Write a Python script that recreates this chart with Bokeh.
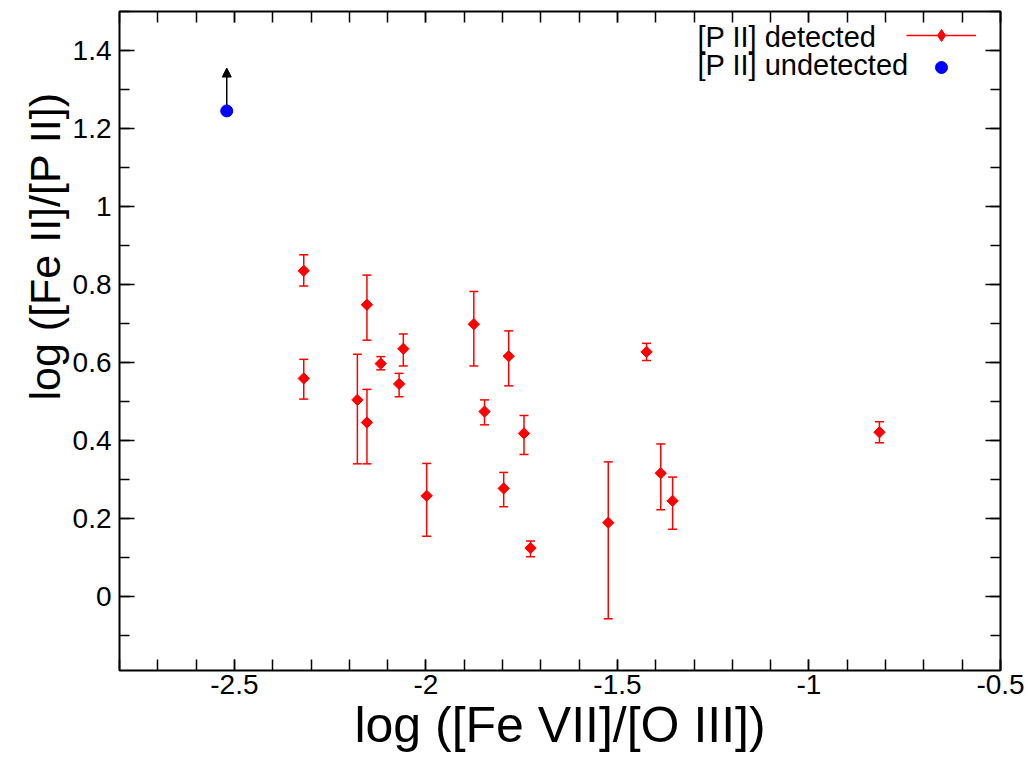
import numpy as np
from bokeh.plotting import figure
from bokeh.models import (Range1d, FixedTicker, LinearAxis, Arrow, NormalHead, Legend,
                          LegendItem, Title, Label, ColumnDataSource, CustomJSTickFormatter)
from bokeh.embed import file_html
from bokeh.resources import INLINE

# ---- data: [P II] detected ----
fe7_o3 = [-2.319, -2.319, -2.179, -2.154, -2.154, -2.118, -2.070, -2.059, -1.998, -1.875,
          -1.847, -1.797, -1.784, -1.744, -1.727, -1.524, -1.424, -1.387, -1.356, -0.816]
fe2_p2 = [0.835, 0.559, 0.504, 0.748, 0.446, 0.597, 0.545, 0.635, 0.258, 0.698,
          0.474, 0.277, 0.616, 0.418, 0.124, 0.189, 0.627, 0.316, 0.245, 0.421]
err_lo = [0.796, 0.506, 0.340, 0.657, 0.340, 0.581, 0.512, 0.591, 0.154, 0.591,
          0.440, 0.230, 0.540, 0.364, 0.102, -0.057, 0.605, 0.222, 0.172, 0.394]
err_hi = [0.876, 0.608, 0.621, 0.824, 0.531, 0.615, 0.572, 0.673, 0.341, 0.782,
          0.504, 0.318, 0.681, 0.464, 0.142, 0.345, 0.649, 0.391, 0.306, 0.448]

# ---- data: [P II] undetected (lower limit) ----
undet_x = [-2.52]
undet_y = [1.245]

series_labels = ["[P II] detected", "[P II] undetected"]

x_ticks = [-2.5, -2.0, -1.5, -1.0, -0.5]
x_tick_labels = ["-2.5", "-2", "-1.5", "-1", "-0.5"]
y_ticks = [0.0, 0.2, 0.4, 0.6, 0.8, 1.0, 1.2, 1.4]
y_tick_labels = ["0", "0.2", "0.4", "0.6", "0.8", "1", "1.2", "1.4"]

x_label = "log ([Fe VII]/[O III])"
y_label = "log ([Fe II]/[P II])"

FONT = "Liberation Sans"
arrow_len = 0.11

x_minor = [round(v, 2) for v in np.arange(-2.8, -0.49, 0.1)]
y_minor = [round(v, 2) for v in np.arange(-0.1, 1.51, 0.1)]

p = figure(width=1030, height=760,
           x_range=Range1d(-2.8, -0.5), y_range=Range1d(-0.19, 1.5),
           output_backend="svg", toolbar_location=None,
           min_border_left=119, min_border_right=30, min_border_top=11, min_border_bottom=90,
           background_fill_color="white", border_fill_color="white",
           outline_line_color="black", outline_line_width=2)
p.grid.visible = False

xt = FixedTicker(ticks=x_ticks, minor_ticks=x_minor)
yt = FixedTicker(ticks=y_ticks, minor_ticks=y_minor)


def style_axis(ax, tin, min_in):
    ax.axis_line_color = None
    ax.major_tick_in = tin
    ax.major_tick_out = 0
    ax.minor_tick_in = min_in
    ax.minor_tick_out = 0
    ax.major_tick_line_width = 1.5
    ax.minor_tick_line_width = 1.5
    ax.major_tick_line_color = "black"
    ax.minor_tick_line_color = "black"


xa = p.xaxis[0]
xa.ticker = xt
xa.major_label_overrides = {t: l for t, l in zip(x_ticks, x_tick_labels)}
style_axis(xa, 11, 11)
xa.major_label_text_font = FONT
xa.major_label_text_font_size = "28px"
xa.major_label_text_color = "black"
xa.major_label_standoff = 4
xa.axis_label = x_label
xa.axis_label_text_font = FONT
xa.axis_label_text_font_size = "50px"
xa.axis_label_text_font_style = "normal"
xa.axis_label_text_color = "black"
xa.axis_label_standoff = 0

ya = p.yaxis[0]
ya.ticker = yt
ya.major_label_overrides = {t: l for t, l in zip(y_ticks, y_tick_labels)}
style_axis(ya, 15, 10)
ya.major_label_text_font = FONT
ya.major_label_text_font_size = "28px"
ya.major_label_text_color = "black"
ya.major_label_standoff = 8

top = LinearAxis(ticker=xt, formatter=CustomJSTickFormatter(code="return ''"),
                 major_label_text_font_size="0px", major_label_standoff=0)
style_axis(top, 11, 11)
p.add_layout(top, "above")
right = LinearAxis(ticker=yt, formatter=CustomJSTickFormatter(code="return ''"),
                   major_label_text_font_size="0px", major_label_standoff=0)
style_axis(right, 15, 10)
p.add_layout(right, "right")

p.add_layout(Title(text=y_label, align="left", offset=270, text_font=FONT,
                   text_font_size="43px", text_font_style="normal",
                   text_color="black", standoff=2), "left")

src = ColumnDataSource(dict(x=fe7_o3, y=fe2_p2, lo=err_lo, hi=err_hi))

seg_r = p.segment(x0="x", y0="lo", x1="x", y1="hi", source=src,
                  line_color="red", line_width=1.5)
p.scatter(x="x", y="lo", source=src, marker="dash", size=9,
          line_color="red", line_width=1.5)
p.scatter(x="x", y="hi", source=src, marker="dash", size=9,
          line_color="red", line_width=1.5)
p.scatter(x="x", y="y", source=src, marker="square", angle=np.pi / 4,
          size=8, fill_color="red", line_color="red", line_width=1)
# legend-only diamond (hidden in the plot area)
leg_dia = p.scatter(x="x", y="y", source=src, marker="diamond", size=14,
                    fill_color="red", line_color="red", visible=False)

arrow = Arrow(x_start=undet_x[0], y_start=undet_y[0],
              x_end=undet_x[0], y_end=undet_y[0] + arrow_len,
              end=NormalHead(size=9, fill_color="black", line_color="black"),
              line_color="black", line_width=1.5, level="underlay")
p.add_layout(arrow)
blue_r = p.scatter(x=undet_x, y=undet_y, marker="circle", size=12,
                   fill_color="blue", line_color="blue")

legend = Legend(items=[LegendItem(label=" ", renderers=[seg_r, leg_dia]),
                       LegendItem(label=" ", renderers=[blue_r])],
                location=(787, 588), glyph_width=70, glyph_height=30,
                label_height=30, label_width=0, label_standoff=0,
                label_text_font_size="1px",
                padding=0, spacing=2, margin=0,
                border_line_color=None, background_fill_alpha=0)
p.add_layout(legend)

for txt, yy in zip(series_labels, [634, 606]):
    p.add_layout(Label(x=578, y=yy, x_units="screen", y_units="screen", text=txt,
                       text_font=FONT, text_font_size="29px", text_color="black",
                       text_baseline="middle", text_align="left"))

open("out.html", "w").write(file_html(p, INLINE))
